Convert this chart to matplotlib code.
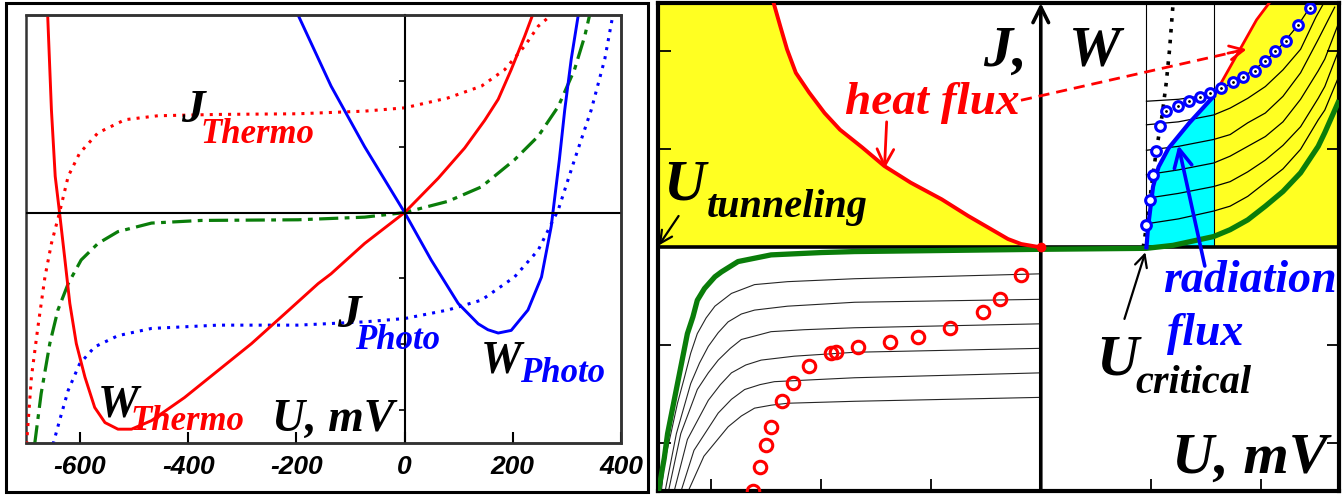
import numpy as np
import matplotlib
matplotlib.use("Agg")
from matplotlib import pyplot as plt
from matplotlib.patches import Rectangle

# ---------------- left panel data (U in mV) ----------------
w_thermo_u = [-660, -653, -646, -638, -628, -619, -607, -591, -573, -554, -530, -505, -468, -407,
              -345, -283, -222, -160, -136, -74, 0, 62, 111, 148, 173, 197, 222, 237]
w_thermo_y = [3.01, 1.56, 0.55, 0.0, -0.72, -1.38, -1.99, -2.50, -2.96, -3.19, -3.29, -3.29, -3.16,
              -2.81, -2.40, -1.99, -1.54, -1.08, -0.93, -0.47, 0.0, 0.52, 0.98, 1.40, 1.72, 2.17,
              2.68, 3.01]

j_thermo_u = [-699, -690, -678, -665, -653, -638, -622, -601, -567, -517, -456, -345, -197, -74, 0,
              80, 142, 185, 222, 247, 271]
j_thermo_y = [-3.52, -2.50, -1.74, -0.98, -0.47, 0.0, 0.55, 0.90, 1.21, 1.41, 1.47, 1.49, 1.50,
              1.54, 1.59, 1.74, 1.92, 2.17, 2.53, 2.83, 3.0]

j_mid_u = [-684, -672, -656, -641, -622, -598, -567, -530, -468, -376, -197, -74, 0, 80, 142, 203,
           247, 284, 314, 333, 342]
j_mid_y = [-3.52, -2.75, -1.99, -1.48, -1.08, -0.72, -0.47, -0.29, -0.16, -0.12, -0.11, -0.07, 0.0,
           0.17, 0.39, 0.80, 1.16, 1.61, 2.17, 2.68, 3.0]

w_photo_u = [-197, -136, -74, 0, 49, 99, 136, 154, 173, 197, 228, 253, 271, 286, 296, 308, 321]
w_photo_y = [3.0, 1.92, 1.00, 0.0, -0.72, -1.38, -1.69, -1.78, -1.83, -1.79, -1.48, -0.98, -0.21,
             0.80, 1.56, 2.33, 3.0]

j_photo_u = [-650, -638, -622, -601, -573, -530, -468, -345, -197, -74, 0, 80, 142, 203, 247, 284,
             314, 345, 370, 385]
j_photo_y = [-3.52, -3.16, -2.70, -2.30, -2.04, -1.87, -1.76, -1.71, -1.71, -1.66, -1.61, -1.48,
             -1.33, -0.98, -0.57, 0.04, 0.80, 1.56, 2.33, 3.0]

left_ticks = [-600, -400, -200, 0, 200, 400]

# ---------------- right panel data (arbitrary units) ----------------
heat_l_x = [-2.426, -2.365, -2.305, -2.225, -2.105, -1.964, -1.824, -1.623, -1.422, -1.182, -0.900,
            -0.659, -0.459, -0.298, -0.178, 0.0]
heat_l_y = [2.49, 2.25, 2.02, 1.78, 1.58, 1.37, 1.20, 1.02, 0.83, 0.66, 0.49, 0.32, 0.19, 0.085,
            0.034, 0.0]

heat_r_x = [1.57, 1.69, 1.81, 1.96, 2.08]
heat_r_y = [1.54, 1.78, 2.02, 2.32, 2.50]

rad_x = [0.96, 0.975, 1.02, 1.07, 1.16, 1.35, 1.57]
rad_y = [0.0, 0.21, 0.62, 0.82, 1.01, 1.27, 1.54]

green_x = [-3.48, -3.42, -3.39, -3.30, -3.21, -3.16, -3.12, -3.055, -2.96, -2.90, -2.75, -2.45,
           -1.99, -1.69, 0.0, 0.96, 1.20, 1.57, 1.72, 1.88, 2.04, 2.20, 2.36, 2.52, 2.58, 2.71]
green_y = [-2.53, -2.15, -1.90, -1.39, -0.88, -0.71, -0.54, -0.42, -0.30, -0.25, -0.145, -0.077,
           -0.053, -0.043, -0.02, -0.01, 0.02, 0.11, 0.18, 0.28, 0.42, 0.57, 0.76, 1.03, 1.17, 1.50]

dotted_x = [0.93, 0.96, 1.01, 1.05, 1.10, 1.14, 1.17, 1.20]
dotted_y = [0.0, 0.21, 0.66, 0.99, 1.33, 1.68, 2.02, 2.46]

blue_circ_x = [0.96, 0.99, 1.02, 1.05, 1.08, 1.14, 1.25, 1.35, 1.45, 1.54, 1.64, 1.75, 1.84,
               1.95, 2.04, 2.13, 2.23, 2.34, 2.45]
blue_circ_y = [0.23, 0.48, 0.74, 0.98, 1.24, 1.39, 1.44, 1.49, 1.53, 1.57, 1.63, 1.69, 1.74,
               1.80, 1.90, 2.00, 2.10, 2.27, 2.44]

red_circ_x = [-2.615, -2.555, -2.494, -2.455, -2.352, -2.252, -2.109, -1.903, -1.858, -1.661,
              -1.367, -1.115, -0.821, -0.524, -0.373, -0.176]
red_circ_y = [-2.49, -2.24, -2.015, -1.835, -1.563, -1.386, -1.209, -1.080, -1.070, -1.019,
              -0.961, -0.910, -0.825, -0.655, -0.526, -0.281]

# family of thin curves, upper right
ur_x = [
    [0.96, 1.25, 1.57, 1.75, 1.94, 2.14, 2.34, 2.44],
    [0.96, 1.25, 1.57, 1.72, 1.88, 2.04, 2.20, 2.36, 2.50, 2.60],
    [0.96, 1.25, 1.57, 1.72, 1.88, 2.04, 2.20, 2.36, 2.52, 2.67],
    [0.96, 1.25, 1.57, 1.72, 1.88, 2.04, 2.20, 2.36, 2.52, 2.58, 2.71],
    [0.96, 1.25, 1.57, 1.72, 1.88, 2.04, 2.20, 2.36, 2.52, 2.58, 2.71],
    [0.96, 1.25, 1.57, 1.72, 1.88, 2.04, 2.20, 2.36, 2.52, 2.58, 2.71],
]
ur_y = [
    [1.49, 1.51, 1.56, 1.69, 1.81, 2.00, 2.27, 2.44],
    [1.25, 1.28, 1.35, 1.42, 1.52, 1.64, 1.81, 2.02, 2.35, 2.55],
    [0.99, 1.03, 1.10, 1.15, 1.27, 1.37, 1.54, 1.78, 2.12, 2.45],
    [0.74, 0.79, 0.86, 0.93, 1.03, 1.13, 1.28, 1.51, 1.80, 1.92, 2.30],
    [0.50, 0.55, 0.62, 0.67, 0.77, 0.89, 1.04, 1.23, 1.52, 1.64, 2.02],
    [0.24, 0.29, 0.37, 0.42, 0.52, 0.66, 0.80, 1.00, 1.30, 1.40, 1.75],
]

# family of thin curves, lower left
ll_x = [
    [-3.45, -3.42, -3.36, -3.30, -3.24, -3.18, -3.12, -3.04, -2.96, -2.81, -2.60, -2.30, -1.69, 0.0],
    [-3.42, -3.31, -3.18, -3.10, -3.02, -2.93, -2.84, -2.72, -2.60, -2.30, -1.69, 0.0],
    [-3.39, -3.27, -3.12, -3.02, -2.93, -2.82, -2.72, -2.45, -2.15, -1.69, 0.0],
    [-3.34, -3.21, -3.02, -2.91, -2.81, -2.68, -2.54, -2.24, -1.69, 0.0],
    [-3.28, -3.15, -2.93, -2.81, -2.69, -2.55, -2.42, -2.06, -1.69, 0.0],
    [-3.22, -3.06, -2.84, -2.72, -2.60, -2.45, -2.30, -1.69, 0.0],
]
ll_y = [
    [-2.53, -2.20, -1.90, -1.59, -1.34, -1.08, -0.88, -0.72, -0.60, -0.47, -0.38, -0.35, -0.32, -0.27],
    [-2.53, -1.90, -1.39, -1.18, -1.01, -0.87, -0.76, -0.68, -0.64, -0.60, -0.56, -0.53],
    [-2.53, -1.90, -1.45, -1.28, -1.15, -1.03, -0.94, -0.86, -0.84, -0.82, -0.78],
    [-2.53, -1.96, -1.56, -1.40, -1.28, -1.20, -1.15, -1.11, -1.07, -1.03],
    [-2.53, -2.07, -1.69, -1.55, -1.45, -1.40, -1.37, -1.35, -1.33, -1.28],
    [-2.53, -2.13, -1.83, -1.72, -1.64, -1.61, -1.59, -1.57, -1.53],
]

u_crit = 0.96
u_edge = 1.57

RED = "#ff0000"
BLUE = "#0000ff"
GREEN = "#0a7d0a"
YELLOW = "#ffff22"
CYAN = "#00ffff"
SERIF = "Liberation Serif"

fig = plt.figure(figsize=(13.42, 4.95), dpi=100)

# ================= left panel =================
axL = fig.add_axes([26 / 1342, 52 / 495, 595 / 1342, 428 / 495])
axL.set_xlim(-700, 400)
axL.set_ylim(-3.5, 3.0)

axL.plot(j_thermo_u, j_thermo_y, color=RED, ls=(0, (1, 2)), lw=2.2)
axL.plot(j_photo_u, j_photo_y, color=BLUE, ls=(0, (1, 2)), lw=2.2)
axL.plot(j_mid_u, j_mid_y, color=GREEN, ls=(0, (6, 2, 1.5, 2)), lw=2.3)
axL.plot(w_thermo_u, w_thermo_y, color=RED, lw=2.1, solid_joinstyle="round")
axL.plot(w_photo_u, w_photo_y, color=BLUE, lw=2.1, solid_joinstyle="round")

axL.axhline(0, color="k", lw=1.5)
for s in ["top", "right", "bottom"]:
    axL.spines[s].set_color("#333333")
    axL.spines[s].set_linewidth(1.8)
axL.spines["left"].set_position(("data", 0))
axL.spines["left"].set_linewidth(1.5)
axL.add_patch(Rectangle((0, 0), 1, 1, transform=axL.transAxes, fill=False,
                        ec="#333333", lw=1.8, clip_on=False))
axL.set_yticks([-3, -2, -1, 1, 2])
axL.set_yticklabels([])
axL.tick_params(axis="y", direction="out", length=4, width=1.2)
axL.set_xticks(left_ticks)
axL.set_xticklabels([str(t) for t in left_ticks], fontsize=19, fontweight="bold",
                    fontstyle="italic", family="Liberation Sans")
axL.tick_params(axis="x", direction="in", length=8, width=1.5, pad=9)

big = dict(family=SERIF, fontweight="bold", fontstyle="italic")
axL.text(-413, 1.38, "J", fontsize=34, color="k", **big)
axL.text(-378, 1.05, "Thermo", fontsize=25, color=RED, **big)
axL.text(-125, -1.74, "J", fontsize=34, color="k", **big)
axL.text(-92, -2.08, "Photo", fontsize=25, color=BLUE, **big)
axL.text(-568, -3.09, "W", fontsize=33, color="k", **big)
axL.text(-506, -3.31, "Thermo", fontsize=25, color=RED, **big)
axL.text(140, -2.43, "W", fontsize=33, color="k", **big)
axL.text(214, -2.57, "Photo", fontsize=25, color=BLUE, **big)
axL.text(-246, -3.31, "U, mV", fontsize=33, color="k", **big)

# frame around the left panel
fig.patches.append(Rectangle((6 / 1342, 3 / 495), 642 / 1342, 489 / 495,
                             transform=fig.transFigure, fill=False, ec="k", lw=2.2))

# ================= right panel =================
axR = fig.add_axes([658 / 1342, 4 / 495, 681 / 1342, 488 / 495])
xmin, xmax = -3.477, 2.709
ymin, ymax = -2.485, 2.492
axR.set_xlim(xmin, xmax)
axR.set_ylim(ymin, ymax)

# filled regions
axR.fill_betweenx(heat_l_y, xmin, heat_l_x, color=YELLOW, lw=0, zorder=1)
axR.fill_between(heat_r_x + [xmax], 0, heat_r_y + [ymax], color=YELLOW, lw=0, zorder=1)
axR.fill_between(rad_x, 0, rad_y, color=CYAN, lw=0, zorder=1)

axR.axvline(u_crit, ymin=(0 - ymin) / (ymax - ymin), color="k", lw=0.8, zorder=2)
axR.axvline(u_edge, ymin=(0 - ymin) / (ymax - ymin), color="k", lw=0.8, zorder=2)

for xs, ys in zip(ll_x, ll_y):
    axR.plot(xs, ys, color="k", lw=0.8, alpha=0.85, zorder=2, solid_joinstyle="round")
for xs, ys in zip(ur_x, ur_y):
    axR.plot(xs, ys, color="k", lw=0.9, zorder=2, solid_joinstyle="round")

axR.plot(dotted_x, dotted_y, color="k", ls=(0, (1, 2)), lw=2.6, zorder=3)
axR.plot(green_x, green_y, color=GREEN, lw=3.8, zorder=4, solid_capstyle="butt",
         solid_joinstyle="round")
axR.plot(heat_l_x, heat_l_y, color=RED, lw=2.8, zorder=4, solid_joinstyle="round")
axR.plot(heat_r_x, heat_r_y, color=RED, lw=2.0, zorder=4)
axR.plot(rad_x, rad_y, color=BLUE, lw=3.0, zorder=4, solid_joinstyle="round")
axR.plot([0], [0], "o", color=RED, ms=6, zorder=5)

axR.plot(blue_circ_x, blue_circ_y, "o", ms=7, mfc="white", mec=BLUE, mew=2.2, zorder=5)
axR.plot(blue_circ_x[5:], blue_circ_y[5:], ".", ms=2, color="k", zorder=6)
axR.plot(red_circ_x, red_circ_y, "o", ms=9, mfc="none", mec=RED, mew=2.2, zorder=5)

axR.axhline(0, color="k", lw=2.6, zorder=3)
axR.annotate("", xy=(0, ymax), xytext=(0, ymin), annotation_clip=False,
             arrowprops=dict(arrowstyle="->", lw=2.6, color="k", mutation_scale=28,
                             shrinkA=0, shrinkB=0), zorder=3)

for s in axR.spines.values():
    s.set_linewidth(3)
    s.set_color("k")
axR.set_xticks([-3, -2, -1, 1, 2])
axR.set_yticks([-2, -1, 1, 2])
axR.set_xticklabels([])
axR.set_yticklabels([])
axR.tick_params(direction="in", length=9, width=1.3, left=True, right=True, bottom=True)

arr = dict(shrinkA=0, shrinkB=0)
axR.annotate("", xy=(-1.42, 0.80), xytext=(-1.40, 1.28),
             arrowprops=dict(arrowstyle="->", lw=2.0, color=RED, mutation_scale=30, **arr), zorder=6)
axR.plot([-0.18, 1.75], [1.50, 1.99], color=RED, ls=(0, (4, 2.5)), lw=2.0, zorder=6)
axR.annotate("", xy=(1.87, 2.02), xytext=(1.70, 1.98),
             arrowprops=dict(arrowstyle="->", lw=2.0, color=RED, mutation_scale=25, **arr), zorder=6)
axR.annotate("", xy=(-3.47, 0.02), xytext=(-3.29, 0.32),
             arrowprops=dict(arrowstyle="->", lw=1.6, color="k", mutation_scale=22, **arr), zorder=6)
axR.annotate("", xy=(0.95, -0.05), xytext=(0.76, -0.73),
             arrowprops=dict(arrowstyle="->", lw=1.6, color="k", mutation_scale=22, **arr), zorder=6)
axR.annotate("", xy=(1.25, 1.04), xytext=(1.49, -0.19),
             arrowprops=dict(arrowstyle="->", lw=2.6, color=BLUE, mutation_scale=32, **arr), zorder=6)

axR.text(-0.52, 1.85, "J,", fontsize=42, color="k", zorder=7, **big)
axR.text(0.26, 1.85, "W", fontsize=42, color="k", zorder=7, **big)
axR.text(-1.78, 1.36, "heat flux", fontsize=34, color=RED, zorder=7, **big)
axR.text(-3.43, 0.49, "U", fontsize=42, color="k", zorder=7, **big)
axR.text(-3.03, 0.305, "tunneling", fontsize=29, color="k", zorder=7, **big)
axR.text(0.50, -1.30, "U", fontsize=42, color="k", zorder=7, **big)
axR.text(0.86, -1.49, "critical", fontsize=29, color="k", zorder=7, **big)
axR.text(1.11, -0.46, "radiation", fontsize=33, color=BLUE, zorder=7, **big)
axR.text(1.15, -1.00, "flux", fontsize=33, color=BLUE, zorder=7, **big)
axR.text(1.19, -2.30, "U, mV", fontsize=42, color="k", zorder=7, **big)

fig.savefig("out.png", dpi=100)
